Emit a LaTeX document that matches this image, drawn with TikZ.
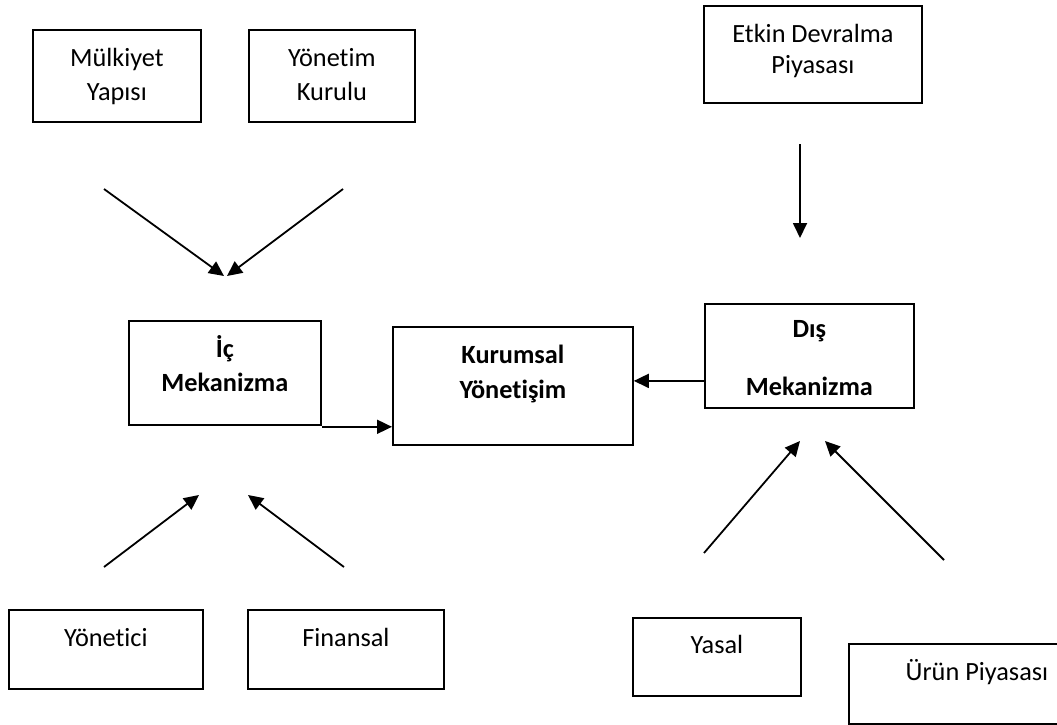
\documentclass[tikz,border=0pt]{standalone}
\usepackage{fontspec}
\setmainfont{Carlito}[Ligatures=NoCommon]
\usetikzlibrary{arrows.meta,positioning,calc}
\tikzset{%
    factor/.style={%
        draw, line width=1.8pt, inner sep=0pt, anchor=north west, align=flush center,
        text height=37pt, font=\fontsize{26.3}{34}\selectfont
    },
    mechanism/.style={%
        factor, font=\fontsize{26.3}{34}\selectfont\bfseries
    },
    link/.style={%
        -{Triangle[length=15pt,width=14pt]}, line width=1.8pt
    },
}
\begin{document}
\begin{tikzpicture}[x=1pt,y=-1pt]
    \clip (0,0) rectangle (1057,725);

    \node[factor, text width=168pt, text depth=55pt] (mulkiyet) at (32,29) {Mülkiyet\\Yapısı};
    \node[factor, text width=166pt, text depth=55pt] (yonetim) at (248,29) {Yönetim\\Kurulu};
    \node[factor, text width=218pt, text depth=60pt] (etkin) at (703,5) {Etkin Devralma\\[-3pt]Piyasası};

    \node[mechanism, text width=192pt, text depth=67pt] (ic) at (128,320) {İç\\Mekanizma};
    \node[mechanism, text width=240pt, text depth=81pt] (kurumsal) at (392,326) {Kurumsal\\[1pt]Yönetişim};
    \node[mechanism, text width=209pt, text height=34pt, text depth=70pt] (dis) at (704,303) {Dış\\[24pt]Mekanizma};

    \node[factor, text width=194pt, text depth=42pt] (yonetici) at (8,609) {Yönetici};
    \node[factor, text width=196pt, text depth=42pt] (finansal) at (247,609) {Finansal};
    \node[factor, text width=168pt, text height=36pt, text depth=42pt] (yasal) at (632,617) {Yasal};
    \node[factor, text width=256pt, text depth=43pt] (urun) at (848,643) {Ürün Piyasası};

    \coordinate (mulkiyet_s) at (104,189);
    \coordinate (mulkiyet_t) at (224,276);
    \coordinate (yonetim_s) at (343,189);
    \coordinate (yonetim_t) at (227,276);
    \coordinate (etkin_s) at (800,144);
    \coordinate (etkin_t) at (800,238);
    \coordinate (yonetici_s) at (104,567);
    \coordinate (yonetici_t) at (199,495);
    \coordinate (finansal_s) at (344,567);
    \coordinate (finansal_t) at (248,495);
    \coordinate (yasal_s) at (704,553);
    \coordinate (yasal_t) at (800,441);
    \coordinate (urun_s) at (944,560);
    \coordinate (urun_t) at (825,441);

    \foreach \x in {mulkiyet,yonetim,etkin,yonetici,finansal,yasal,urun}
        \draw[link] (\x_s) -- (\x_t);

    \draw[link] ([yshift=-1pt]ic.south east) -- ([yshift=-1pt]ic.south east -| kurumsal.west);
    \draw[link] ([yshift=-25pt]dis.west) -- ([yshift=-25pt]dis.west -| kurumsal.east);

  \end{tikzpicture}
\end{document}
